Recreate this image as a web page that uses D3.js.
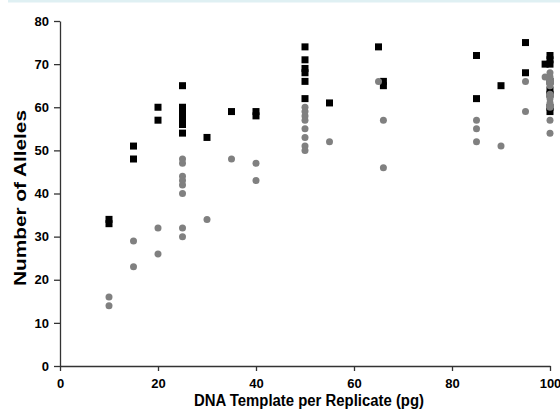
<!DOCTYPE html>
<html>
<head>
<meta charset="utf-8">
<script src="https://cdn.jsdelivr.net/npm/d3@7"></script>
<style>
  body { margin: 0; background: #fff; }
  svg { display: block; font-family: "Liberation Sans", Arial, sans-serif; }
</style>
</head>
<body>
<svg id="chart" width="560" height="412"></svg>
<script>
// black squares series
const squareX = [10, 10, 15, 15, 20, 20,
  25, 25, 25, 25, 25, 25, 25, 30, 35, 40, 40,
  50, 50, 50, 50, 50, 50, 55, 65, 66, 66,
  85, 85, 90, 95, 95, 99, 100, 100, 100, 100, 100, 100, 100, 100];
const squareY = [34, 33, 51, 48, 60, 57,
  65, 60, 59, 58, 57, 56, 54, 53, 59, 59, 58,
  74, 71, 69, 68, 66, 62, 61, 74, 66, 65,
  72, 62, 65, 75, 68, 70, 72, 71, 70, 66, 64, 63, 60, 59];

// grey circles series
const circleX = [10, 10, 15, 15, 20, 20,
  25, 25, 25, 25, 25, 25, 25, 25, 30, 35, 40, 40,
  50, 50, 50, 50, 50, 50, 50, 50, 55, 65, 66, 66,
  85, 85, 85, 90, 95, 95, 99, 100, 100, 100, 100, 100, 100, 100, 100, 100, 100];
const circleY = [16, 14, 29, 23, 32, 26,
  48, 47, 44, 43, 42, 40, 32, 30, 34, 48, 47, 43,
  60, 59, 58, 57, 55, 53, 51, 50, 52, 66, 57, 46,
  57, 55, 52, 51, 66, 59, 67, 68, 67, 66, 65, 63, 62, 61, 60, 57, 54];

const xTicks = [0, 20, 40, 60, 80, 100];
const yTicks = [0, 10, 20, 30, 40, 50, 60, 70, 80];

const svg = d3.select("#chart");

// thin caption strip left over at the top
svg.append("rect")
  .attr("x", 8).attr("y", 0)
  .attr("width", 552).attr("height", 2.5)
  .attr("fill", "#dff0f3");

const x = d3.scaleLinear().domain([0, 100]).range([60, 550]);
const y = d3.scaleLinear().domain([0, 80]).range([366, 21]);

const axisColor = "#333";

const gx = svg.append("g")
  .attr("transform", `translate(0,${y(0)})`)
  .call(d3.axisBottom(x).tickValues(xTicks).tickSize(5).tickPadding(8).tickSizeOuter(0));

const gy = svg.append("g")
  .attr("transform", `translate(${x(0)},0)`)
  .call(d3.axisLeft(y).tickValues(yTicks).tickSize(6).tickPadding(5).tickSizeOuter(0));

[gx, gy].forEach((g) => {
  g.select(".domain").attr("stroke", axisColor).attr("stroke-width", 1.3);
  g.selectAll(".tick line").attr("stroke", axisColor).attr("stroke-width", 1.3);
  g.selectAll(".tick text")
    .attr("fill", "#000")
    .style("font-family", '"Liberation Sans", Arial, sans-serif')
    .style("font-size", "13px")
    .style("font-weight", "bold");
});

// squares first, circles on top
const sq = 7;
svg.append("g")
  .selectAll("rect")
  .data(squareX.map((d, i) => ({ x: d, y: squareY[i] })))
  .enter()
  .append("rect")
  .attr("x", (d) => x(d.x) - sq / 2)
  .attr("y", (d) => y(d.y) - sq / 2)
  .attr("width", sq)
  .attr("height", sq)
  .attr("fill", "#000");

svg.append("g")
  .selectAll("circle")
  .data(circleX.map((d, i) => ({ x: d, y: circleY[i] })))
  .enter()
  .append("circle")
  .attr("cx", (d) => x(d.x))
  .attr("cy", (d) => y(d.y))
  .attr("r", 3.5)
  .attr("fill", "#808080");

// axis titles
svg.append("text")
  .attr("x", 309)
  .attr("y", 406)
  .attr("text-anchor", "middle")
  .attr("textLength", 230)
  .attr("lengthAdjust", "spacingAndGlyphs")
  .style("font-size", "16px")
  .style("font-weight", "bold")
  .text("DNA Template per Replicate (pg)");

svg.append("text")
  .attr("transform", `translate(26,198) rotate(-90)`)
  .attr("text-anchor", "middle")
  .attr("textLength", 176)
  .attr("lengthAdjust", "spacingAndGlyphs")
  .style("font-size", "16px")
  .style("font-weight", "bold")
  .text("Number of Alleles");
</script>
</body>
</html>
